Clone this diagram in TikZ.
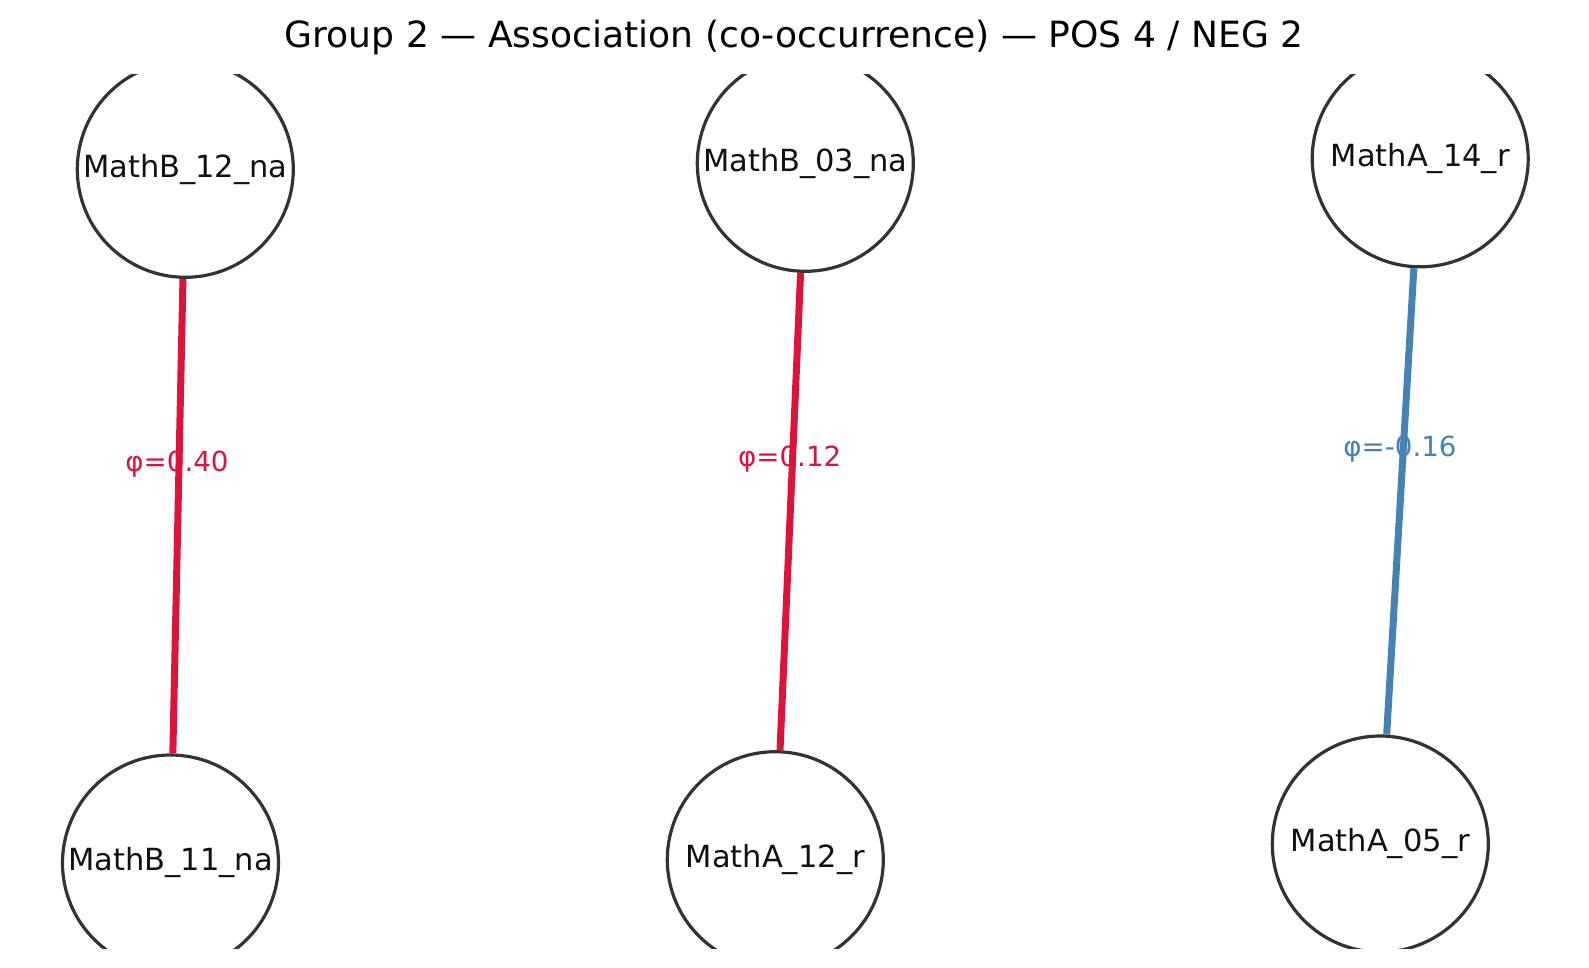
\documentclass[tikz,border=0pt]{standalone}
\usepackage{fontspec}
\setmainfont{DejaVu Sans}
\definecolor{nodeedge}{HTML}{333333}
\definecolor{textdark}{HTML}{111111}
\definecolor{poscol}{HTML}{DC143C}
\definecolor{negcol}{HTML}{4682B4}
\tikzset{
  vnode/.style={circle, draw=nodeedge, line width=3.2pt, fill=white, minimum size=216pt, inner sep=0pt, text=textdark, font=\fontsize{30.5}{36}\selectfont},
  poslink/.style={draw=poscol, line width=7pt},
  neglink/.style={draw=negcol, line width=7pt},
  elabel/.style={inner sep=0pt, font=\fontsize{27.7}{33}\selectfont},
  titlelabel/.style={inner sep=0pt, anchor=base, font=\fontsize{36.1}{43}\selectfont}
}
\begin{document}
\begin{tikzpicture}[x=1pt,y=-1pt]
\useasboundingbox (0,0) rectangle (1589,968);
\fill[white] (0,0) rectangle (1589,968);
\node[titlelabel] (title) at (794.2,47.3) {Group 2 — Association (co-occurrence) — POS 4 / NEG 2};
\node[elabel, text=poscol] (l1) at (177,464.5) {φ=0.40};
\node[elabel, text=poscol] (l2) at (789.7,459) {φ=0.12};
\node[elabel, text=negcol] (l3) at (1400,449.5) {φ=-0.16};
\begin{scope}
\clip (0,75) rectangle (1589,948.5);
\node[vnode] (a1) at (185.3,169.3) {MathB\_12\_na};
\node[vnode] (a2) at (170.5,863) {MathB\_11\_na};
\node[vnode] (b1) at (805.3,163.3) {MathB\_03\_na};
\node[vnode] (b2) at (775.3,859.7) {MathA\_12\_r};
\node[vnode] (c1) at (1420.2,158.8) {MathA\_14\_r};
\node[vnode] (c2) at (1380.3,844) {MathA\_05\_r};
\draw[poslink] (a1) -- (a2);
\draw[poslink] (b1) -- (b2);
\draw[neglink] (c1) -- (c2);
\end{scope}
\end{tikzpicture}
\end{document}
